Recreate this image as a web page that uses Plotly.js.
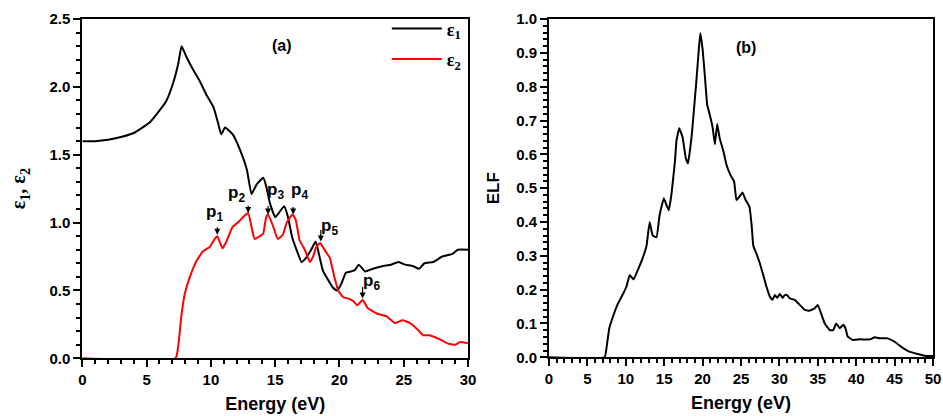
<!DOCTYPE html>
<html>
<head>
<meta charset="utf-8">
<script src="https://cdn.plot.ly/plotly-3.0.1.min.js"></script>
<style>html,body{margin:0;padding:0;background:#fff;}#plot{width:943px;height:416px;}</style>
</head>
<body>
<div id="plot"></div>
<script>
// ---- Panel (a): dielectric function ----
const eps1E = [0, 1, 2, 3, 4, 5.26, 6.04, 6.55, 7.07, 7.46, 7.72, 8.1, 8.6, 9.15, 9.66, 10.2, 10.57, 10.8, 11.1, 11.7, 12.25, 12.8, 13.16, 13.55, 14.07, 14.3, 14.6, 15.0, 15.2, 15.7, 16.0, 16.3, 16.7, 17.05, 17.4, 17.8, 18.15, 18.4, 18.7, 19.1, 19.5, 19.8, 20.15, 20.5, 20.9, 21.2, 21.5, 22.0, 22.6, 23.4, 24.0, 24.6, 25.1, 25.7, 26.2, 26.6, 27.3, 28.0, 28.8, 29.2, 30];
const eps1V = [1.60, 1.60, 1.61, 1.63, 1.66, 1.74, 1.83, 1.90, 2.03, 2.17, 2.30, 2.22, 2.13, 2.04, 1.94, 1.85, 1.73, 1.65, 1.70, 1.65, 1.54, 1.39, 1.21, 1.28, 1.33, 1.27, 1.14, 1.04, 1.06, 1.12, 1.04, 0.90, 0.79, 0.71, 0.74, 0.80, 0.86, 0.77, 0.65, 0.58, 0.52, 0.50, 0.55, 0.63, 0.64, 0.65, 0.69, 0.64, 0.66, 0.68, 0.69, 0.71, 0.69, 0.68, 0.66, 0.70, 0.71, 0.75, 0.77, 0.80, 0.80];
const eps2E = [0, 7.25, 7.46, 7.7, 7.98, 8.37, 8.9, 9.4, 9.92, 10.3, 10.5, 10.9, 11.2, 11.7, 12.1, 12.5, 12.9, 13.2, 13.4, 13.8, 14.07, 14.3, 14.45, 14.85, 15.2, 15.6, 15.9, 16.35, 16.6, 16.9, 17.3, 17.7, 17.95, 18.2, 18.5, 18.9, 19.25, 19.6, 19.9, 20.3, 20.7, 21.1, 21.4, 21.8, 22.2, 22.9, 23.65, 24.3, 24.9, 25.5, 26.1, 26.5, 27.0, 27.8, 28.4, 29.0, 29.4, 30];
const eps2V = [0, 0, 0.09, 0.31, 0.48, 0.60, 0.72, 0.79, 0.82, 0.88, 0.90, 0.81, 0.86, 0.97, 1.00, 1.04, 1.07, 0.95, 0.88, 0.90, 0.92, 1.04, 1.06, 0.97, 0.88, 0.91, 1.00, 1.06, 1.02, 0.87, 0.80, 0.71, 0.75, 0.82, 0.85, 0.79, 0.74, 0.60, 0.50, 0.45, 0.44, 0.42, 0.39, 0.43, 0.37, 0.33, 0.31, 0.26, 0.28, 0.26, 0.21, 0.17, 0.17, 0.14, 0.11, 0.10, 0.12, 0.11];

// peak labels p1..p6 (arrow tip energy/value, label position)
const peakNames = ["p<sub>1</sub>", "p<sub>2</sub>", "p<sub>3</sub>", "p<sub>4</sub>", "p<sub>5</sub>", "p<sub>6</sub>"];
const peakE = [10.5, 12.9, 14.45, 16.4, 18.55, 21.8];
const peakV = [0.91, 1.07, 1.06, 1.06, 0.86, 0.44];
const labelE = [10.3, 12.0, 15.0, 16.9, 19.25, 22.5];
const labelV = [1.07, 1.21, 1.23, 1.23, 0.97, 0.565];
const arrowLen = [9, 9, 10, 9, 13, 13];

// tick labels
const aXTicks = [0, 5, 10, 15, 20, 25, 30];
const aYTicks = [0, 0.5, 1.0, 1.5, 2.0, 2.5];
const bXTicks = [0, 5, 10, 15, 20, 25, 30, 35, 40, 45, 50];
const bYTicks = [0, 0.1, 0.2, 0.3, 0.4, 0.5, 0.6, 0.7, 0.8, 0.9, 1.0];

// ---- Panel (b): energy loss function ----
const elfE = [0, 7.25, 7.5, 7.85, 8.4, 9.0, 9.7, 10.1, 10.5, 11.0, 11.6, 12.3, 12.7, 13.1, 13.5, 14.0, 14.4, 14.95, 15.3, 15.6, 15.96, 16.4, 16.6, 16.95, 17.4, 17.8, 18.1, 18.6, 18.9, 19.2, 19.5, 19.7, 20.0, 20.3, 20.6, 20.9, 21.3, 21.6, 21.9, 22.2, 22.7, 23.1, 23.6, 24.1, 24.4, 24.8, 25.2, 25.6, 26.1, 26.4, 26.6, 27.0, 27.45, 27.9, 28.3, 28.75, 29.1, 29.4, 29.7, 30.05, 30.4, 30.7, 31.0, 31.35, 32.0, 32.65, 33.3, 33.95, 34.6, 35.0, 35.5, 35.9, 36.6, 37.0, 37.4, 37.85, 38.3, 38.6, 38.9, 39.6, 40.5, 41.8, 42.4, 43.1, 44.1, 45.0, 46.1, 46.9, 48.0, 49.1, 50];
const elfV = [0, 0, 0.03, 0.086, 0.125, 0.16, 0.19, 0.21, 0.243, 0.23, 0.26, 0.30, 0.33, 0.40, 0.36, 0.355, 0.42, 0.47, 0.45, 0.435, 0.485, 0.58, 0.64, 0.677, 0.65, 0.59, 0.573, 0.66, 0.74, 0.82, 0.91, 0.958, 0.91, 0.83, 0.746, 0.72, 0.68, 0.63, 0.69, 0.65, 0.61, 0.57, 0.54, 0.52, 0.465, 0.475, 0.487, 0.465, 0.445, 0.386, 0.33, 0.307, 0.278, 0.243, 0.21, 0.18, 0.17, 0.184, 0.176, 0.187, 0.176, 0.184, 0.184, 0.174, 0.17, 0.155, 0.14, 0.138, 0.145, 0.155, 0.125, 0.10, 0.08, 0.08, 0.10, 0.086, 0.096, 0.086, 0.061, 0.051, 0.053, 0.053, 0.059, 0.056, 0.056, 0.046, 0.027, 0.017, 0.01, 0.004, 0.004];

const SANS = "Arial, 'Liberation Sans', sans-serif";
const SERIF = "'Liberation Serif', 'DejaVu Serif', serif";
function f(size, fam) { return {family: fam || SANS, size: size, color: "#000", weight: "bold"}; }
function boldLabels(vals, digits) { return vals.map(v => "<b>" + (digits ? v.toFixed(digits) : String(v)) + "</b>"); }

const traces = [
  {x: eps1E, y: eps1V, type: "scatter", mode: "lines", name: "ε<sub>1</sub>", line: {color: "#000", width: 2, shape: "spline", smoothing: 0.4}, xaxis: "x", yaxis: "y", legendgroup: "a"},
  {x: eps2E, y: eps2V, type: "scatter", mode: "lines", name: "ε<sub>2</sub>", line: {color: "#ff0000", width: 2, shape: "spline", smoothing: 0.4}, xaxis: "x", yaxis: "y", legendgroup: "b"},
  {x: elfE, y: elfV, type: "scatter", mode: "lines", name: "ELF", showlegend: false, line: {color: "#000", width: 2, shape: "spline", smoothing: 0.3}, xaxis: "x2", yaxis: "y2"}
];

function axis(extra) {
  return Object.assign({
    showgrid: false, zeroline: false, showline: true, linecolor: "#000", linewidth: 2,
    mirror: true, ticks: "outside", ticklen: 7, tickwidth: 2, tickcolor: "#000",
    tickfont: f(15), fixedrange: true, tickmode: "array"
  }, extra);
}
function minor(d) { return {dtick: d, ticks: "outside", ticklen: 4, tickwidth: 2, tickcolor: "#000"}; }

const annotations = [];
for (let i = 0; i < peakNames.length; i++) {
  annotations.push({xref: "x", yref: "y", x: peakE[i], y: peakV[i], text: "", showarrow: true,
    ax: 0, ay: -arrowLen[i], arrowhead: 2, arrowsize: 1, arrowwidth: 1.2, arrowcolor: "#000", standoff: 0});
  annotations.push({xref: "x", yref: "y", x: labelE[i], y: labelV[i], text: peakNames[i], showarrow: false, font: f(17)});
}
annotations.push({xref: "paper", yref: "paper", x: 0.286, y: 0.917, text: "(a)", showarrow: false, font: f(16)});
annotations.push({xref: "paper", yref: "paper", x: 0.804, y: 0.91, text: "(b)", showarrow: false, font: f(16)});

const layout = {
  width: 943, height: 416,
  margin: {l: 0, r: 0, t: 0, b: 0},
  paper_bgcolor: "#fff", plot_bgcolor: "#fff",
  showlegend: true,
  legend: {x: 0.494, y: 0.975, xanchor: "right", yanchor: "top", bgcolor: "rgba(0,0,0,0)",
    font: f(18, SERIF), tracegroupgap: 4, itemwidth: 50},
  xaxis: axis({domain: [0.0873, 0.4963], anchor: "y", range: [0, 30], tickvals: aXTicks, ticktext: boldLabels(aXTicks, 0),
    minor: minor(1), title: {text: "Energy (eV)", font: f(18), standoff: 10}}),
  yaxis: axis({domain: [0.1387, 0.9543], anchor: "x", range: [0, 2.5], tickvals: aYTicks, ticktext: boldLabels(aYTicks, 1),
    minor: minor(0.1), title: {text: "ε<sub>1</sub>, ε<sub>2</sub>", font: f(20, SERIF), standoff: 18}}),
  xaxis2: axis({domain: [0.5822, 0.9894], anchor: "y2", range: [0, 50], tickvals: bXTicks, ticktext: boldLabels(bXTicks, 0),
    minor: minor(1), title: {text: "Energy (eV)", font: f(18), standoff: 10}}),
  yaxis2: axis({domain: [0.1411, 0.9543], anchor: "x2", range: [0, 1.0], tickvals: bYTicks, ticktext: boldLabels(bYTicks, 1),
    minor: minor(0.02), title: {text: "ELF", font: f(17), standoff: 12}}),
  annotations: annotations
};

Plotly.newPlot("plot", traces, layout, {displayModeBar: false, staticPlot: true});
</script>
</body>
</html>
